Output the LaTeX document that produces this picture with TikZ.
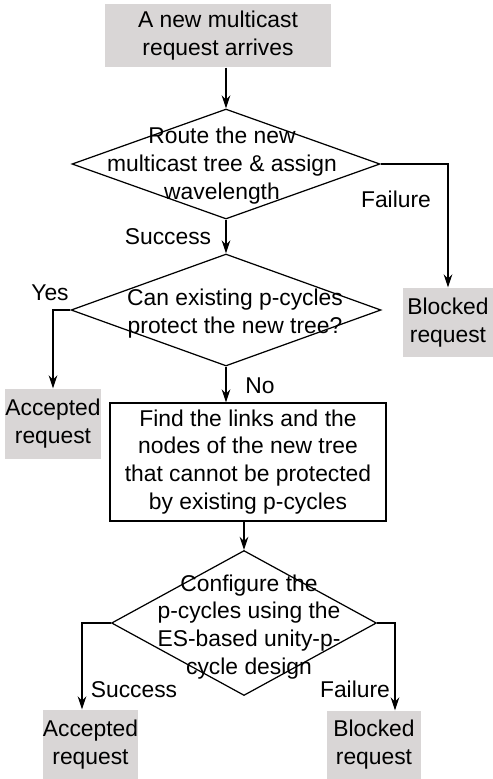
\documentclass[tikz,border=0pt]{standalone}
\usepackage{fontspec}
\setmainfont{Liberation Sans}
\usepackage{tikz}
\usetikzlibrary{arrows.meta}
\usetikzlibrary{shapes.geometric}
\definecolor{boxgray}{RGB}{217,214,214}

\begin{document}
\begin{tikzpicture}[x=0.02cm, y=-0.02cm, line width=0.7pt,
        every node/.style={font=\fontsize{13}{15.9}\selectfont, align=center},
        endbox/.style={fill=boxgray, inner sep=0pt},
        decision/.style={draw, diamond, inner sep=0pt},
        arr/.style={-{Stealth[length=7.5pt, width=5pt]}}]
        \useasboundingbox (0,0) rectangle (493,779);

        \node[endbox, minimum width=4.54cm, minimum height=1.26cm] (start) at (218,35.5) {A new multicast\\request arrives};
        \node[decision, minimum width=6.16cm, minimum height=2.2cm] (route) at (226,164) {};
        \node (routetext) at (222,166) {Route the new\\multicast tree \& assign\\wavelength};
        \node[decision, minimum width=6.2cm, minimum height=2.24cm] (protect) at (226,310) {};
        \node (protecttext) at (235,314) {Can existing p-cycles\\protect the new tree?};
        \node[endbox, minimum width=1.8cm, minimum height=1.38cm] (blocked1) at (448,322.5) {Blocked\\request};
        \node[endbox, minimum width=1.88cm, minimum height=1.4cm] (accepted1) at (53,424) {Accepted\\request};
        \node[draw, minimum width=5.52cm, minimum height=2.36cm] (find) at (248,462) {Find the links and the\\nodes of the new tree\\that cannot be protected\\by existing p-cycles};
        \node[decision, minimum width=5.3cm, minimum height=2.9cm] (config) at (244,623) {};
        \node (configtext) at (249,627) {Configure the\\p-cycles using the\\ES-based unity-p-\\cycle design};
        \node[endbox, minimum width=1.9cm, minimum height=1.38cm] (accepted2) at (90.5,744.5) {Accepted\\request};
        \node[endbox, minimum width=1.88cm, minimum height=1.36cm] (blocked2) at (374,745) {Blocked\\request};

        \coordinate (succturn) at (82,623);
        \coordinate (failturn) at (395,623);

        \draw[arr] (start.south -| route.north) -- (route.north);
        \draw[arr] (route.south) -- (protect.north);
        \draw[arr] (route.east) -| (blocked1.north);
        \draw[arr] (protect.west) -| (accepted1.north);
        \draw[arr] (protect.south) -- (protect.south |- find.north);
        \draw[arr] (find.south -| config.north) -- (config.north);
        \draw[arr] (config.west) -- (succturn) -- (succturn |- accepted2.north);
        \draw[arr] (config.east) -- (failturn) -- (failturn |- blocked2.north);

        \node (fail1) at (396,199) {Failure};
        \node (succ1) at (168,237) {Success};
        \node (yes) at (50,293) {Yes};
        \node (no) at (260,386) {No};
        \node (succ2) at (134,690) {Success};
        \node (fail2) at (355,689) {Failure};
\end{tikzpicture}
\end{document}
